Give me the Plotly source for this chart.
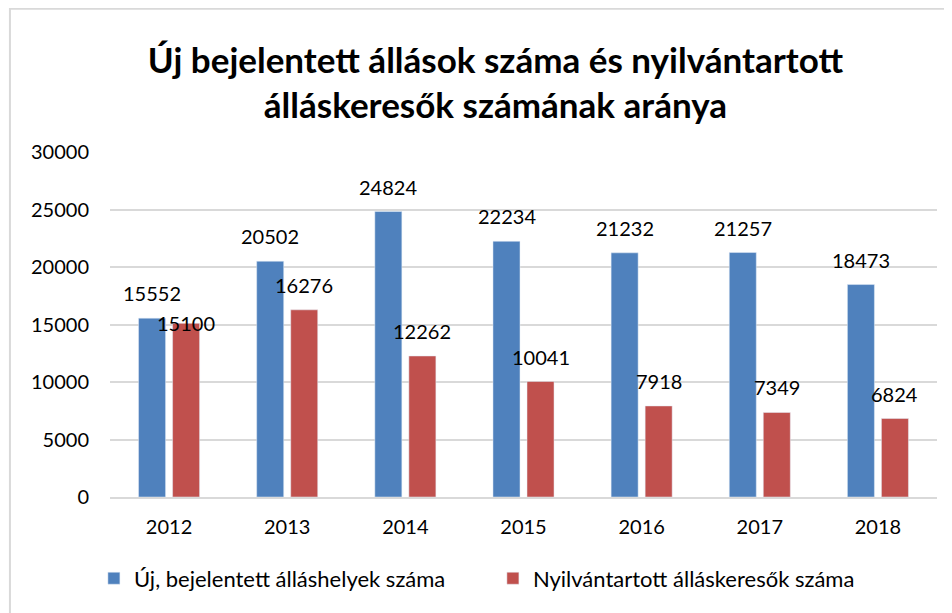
import plotly.graph_objects as go

years = ["2012", "2013", "2014", "2015", "2016", "2017", "2018"]
uj_allashelyek = [15552, 20502, 24824, 22234, 21232, 21257, 18473]
allaskeresok = [15100, 16276, 12262, 10041, 7918, 7349, 6824]
series_names = ["Új, bejelentett álláshelyek száma", "Nyilvántartott álláskeresők száma"]
title_text = "<b>Új bejelentett állások száma és nyilvántartott<br>álláskeresők számának aránya</b>"

# style
colors = ["#4F81BD", "#C0504D"]
FONT = "Lato, Carlito, 'Open Sans', sans-serif"
label_yshift_blue = [25] * 7
label_yshift_red = [0, 25, 25, 25, 25, 25, 25]

fig = go.Figure()
fig.add_trace(go.Bar(x=years, y=uj_allashelyek, name=series_names[0], marker_color=colors[0]))
fig.add_trace(go.Bar(x=years, y=allaskeresok, name=series_names[1], marker_color=colors[1]))

# data labels as annotations (centered over each bar); x given as category index
for i, yr in enumerate(years):
    fig.add_annotation(x=i, y=uj_allashelyek[i], text=str(uj_allashelyek[i]), showarrow=False,
                       xshift=-17, yshift=label_yshift_blue[i], yanchor="middle",
                       font=dict(family=FONT, size=20, color="#000000"))
    fig.add_annotation(x=i, y=allaskeresok[i], text=str(allaskeresok[i]), showarrow=False,
                       xshift=17, yshift=label_yshift_red[i], yanchor="middle",
                       font=dict(family=FONT, size=20, color="#000000"))

# chart border
fig.add_shape(type="rect", xref="paper", yref="paper", x0=-0.121, x1=1.06, y0=-0.45, y1=1.415,
              line=dict(color="#D9D9D9", width=2), fillcolor="rgba(0,0,0,0)", layer="below")

fig.update_layout(
    width=952, height=613,
    margin=dict(l=102, r=23, t=144, b=124),
    paper_bgcolor="white", plot_bgcolor="white",
    barmode="group", bargap=0.424, bargroupgap=0.206,
    font=dict(family=FONT, size=20, color="#000000"),
    title=dict(text=title_text, x=0.512, xanchor="center", y=0.894, yanchor="top",
               font=dict(family=FONT, size=35, color="#000000")),
    showlegend=True,
    legend=dict(orientation="h", x=0.463, xanchor="center", y=-0.236, yanchor="middle",
                entrywidth=354, entrywidthmode="pixels",
                font=dict(family=FONT, size=22, color="#000000"), traceorder="normal"),
    xaxis=dict(type="category", range=[-0.5, len(years) - 0.5], showgrid=False, showline=True,
               linecolor="#D9D9D9", linewidth=2,
               ticks="", ticklabelstandoff=11, tickfont=dict(family=FONT, size=20)),
    yaxis=dict(range=[0, 30000], dtick=5000, tickformat="d", showgrid=True,
               gridcolor="#D9D9D9", gridwidth=2, zeroline=False, showline=False,
               ticks="", ticklabelstandoff=20, tickfont=dict(family=FONT, size=20)),
)

fig.write_html("out.html")
